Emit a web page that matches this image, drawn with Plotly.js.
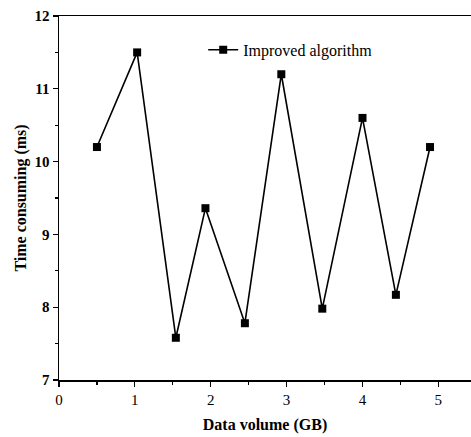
<!DOCTYPE html>
<html>
<head>
<meta charset="utf-8">
<script src="https://cdn.plot.ly/plotly-3.0.1.min.js"></script>
<style>html,body{margin:0;padding:0;background:#fff;}#chart{width:471px;height:437px;}</style>
</head>
<body>
<div id="chart"></div>
<script>
const dataVolume = [0.5, 1.03, 1.54, 1.93, 2.45, 2.93, 3.47, 4.0, 4.44, 4.89];
const timeConsuming = [10.2, 11.5, 7.58, 9.36, 7.78, 11.2, 7.98, 10.6, 8.17, 10.2];
const seriesName = "Improved algorithm";
const xTickVals = [0, 1, 2, 3, 4, 5];
const yTickVals = [7, 8, 9, 10, 11, 12];

const serif = "Liberation Serif, Times New Roman, serif";
const trace = {
  x: dataVolume, y: timeConsuming, name: seriesName,
  type: "scatter", mode: "lines+markers",
  line: {color: "#000", width: 1.6},
  marker: {symbol: "square", size: 8, color: "#000"}
};
const layout = {
  width: 471, height: 437,
  margin: {l: 59, r: 0, t: 16, b: 57},
  paper_bgcolor: "#fff", plot_bgcolor: "#fff",
  showlegend: true,
  legend: {x: 0.35, y: 0.907, xanchor: "left", yanchor: "middle",
    font: {family: serif, size: 16, color: "#000"}, bgcolor: "rgba(0,0,0,0)"},
  xaxis: {
    range: [0, 5.43], tickvals: xTickVals, showgrid: false, zeroline: false,
    showline: true, linecolor: "#000", linewidth: 1.5, mirror: true,
    ticks: "outside", ticklen: 5, tickwidth: 1.2, tickcolor: "#000",
    minor: {dtick: 0.5, tick0: 0, ticks: "outside", ticklen: 3, tickwidth: 1.2, tickcolor: "#000", showgrid: false},
    tickfont: {family: serif, size: 15, color: "#000"},
    title: {text: "Data volume (GB)", font: {family: serif, size: 16, color: "#000", weight: "bold"}, standoff: 12}
  },
  yaxis: {
    range: [7, 12], tickvals: yTickVals, showgrid: false, zeroline: false,
    showline: true, linecolor: "#000", linewidth: 1.5, mirror: false,
    ticks: "outside", ticklen: 5, tickwidth: 1.2, tickcolor: "#000",
    minor: {dtick: 0.5, tick0: 7, ticks: "outside", ticklen: 3, tickwidth: 1.2, tickcolor: "#000", showgrid: false},
    tickfont: {family: serif, size: 15, color: "#000", weight: "bold"},
    title: {text: "Time consuming (ms)", font: {family: serif, size: 16, color: "#000", weight: "bold"}, standoff: 4}
  }
};
Plotly.newPlot("chart", [trace], layout, {displayModeBar: false, staticPlot: true});
</script>
</body>
</html>
